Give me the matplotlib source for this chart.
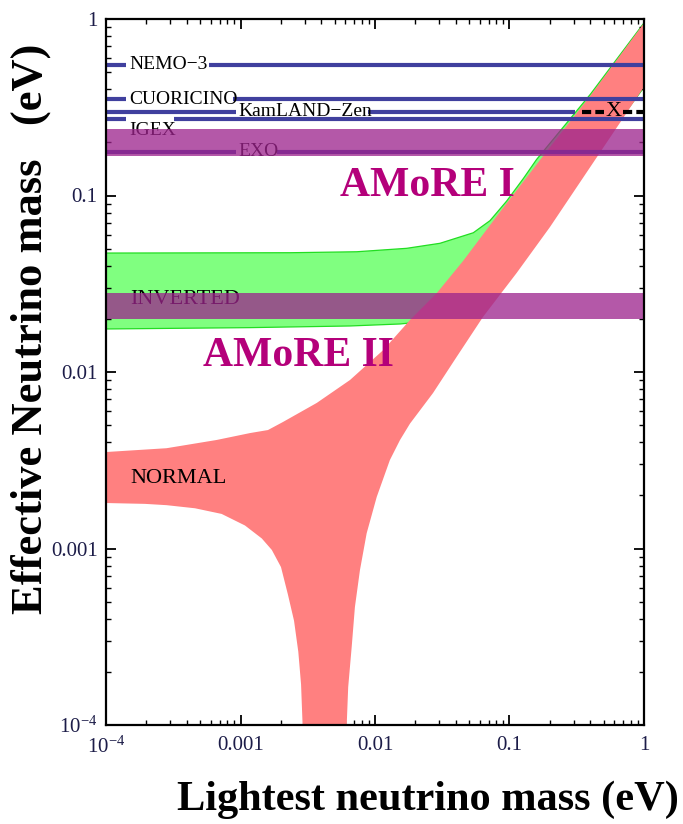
import matplotlib
matplotlib.use("Agg")
import matplotlib.pyplot as plt
from matplotlib.ticker import FixedLocator, LogLocator, NullFormatter

plt.rcParams['font.family'] = ['Liberation Serif', 'DejaVu Serif']
plt.rcParams['mathtext.fontset'] = 'custom'
plt.rcParams['mathtext.rm'] = 'Liberation Serif'
plt.rcParams['mathtext.it'] = 'Liberation Serif:italic'
plt.rcParams['mathtext.bf'] = 'Liberation Serif:bold'

# ---------------- data ----------------
# Normal hierarchy band
normal_upper_x = [1e-4, 2.82e-4, 6.65e-4, 1.18e-3, 1.60e-3, 2.07e-3, 3.69e-3, 6.52e-3,
                  0.0115, 0.0182, 0.0288, 0.0451, 0.0849, 0.200, 0.397, 1.0]
normal_upper_y = [0.00352, 0.00370, 0.00412, 0.00451, 0.00469, 0.00521, 0.00668, 0.00901,
                  0.0133, 0.0197, 0.0280, 0.0425, 0.0806, 0.188, 0.366, 0.949]
normal_lower_x = [1e-4, 1.95e-4, 2.82e-4, 4.59e-4, 7.24e-4, 1.08e-3, 1.44e-3, 1.71e-3,
                  2.00e-3, 2.25e-3, 2.50e-3, 2.69e-3, 2.82e-3, 2.89e-3, 2.92e-3,
                  6.10e-3, 6.17e-3, 6.32e-3, 6.71e-3, 7.09e-3, 7.73e-3, 8.67e-3,
                  0.0103, 0.0129, 0.01535, 0.0182, 0.0270, 0.0404, 0.0635, 0.113,
                  0.200, 1.0]
normal_lower_y = [1.81e-3, 1.79e-3, 1.76e-3, 1.69e-3, 1.57e-3, 1.35e-3, 1.14e-3, 9.81e-4,
                  7.85e-4, 5.5e-4, 3.9e-4, 2.6e-4, 1.7e-4, 1.04e-4, 1e-5,
                  1e-5, 1.03e-4, 1.64e-4, 2.77e-4, 4.66e-4, 7.55e-4, 1.22e-3,
                  1.96e-3, 3.17e-3, 4.12e-3, 5.1e-3, 7.6e-3, 0.01216, 0.0205, 0.0364,
                  0.0663, 0.412]

# Inverted hierarchy band
inv_upper_x = [1e-4, 2.33e-3, 7.31e-3, 0.0172, 0.0304, 0.0538, 0.0716, 0.0953, 0.127,
               0.159, 0.40, 1.0]
inv_upper_y = [0.0472, 0.0474, 0.0480, 0.0502, 0.0536, 0.0615, 0.0720, 0.0930, 0.125,
               0.160, 0.375, 0.95]
inv_lower_x = [1e-4, 1.18e-3, 6.52e-3, 0.01535, 0.0216, 0.05, 0.1, 0.3, 1.0]
inv_lower_y = [0.01753, 0.01784, 0.01823, 0.01871, 0.0192, 0.026, 0.042, 0.12, 0.41]

# Experimental limits (eV)
exp_names = ['NEMO\u22123', 'CUORICINO', 'KamLAND\u2212Zen', 'IGEX', 'EXO']
exp_limits = [0.549, 0.351, 0.298, 0.271, 0.176]

# AMoRE sensitivity bands (eV)
amore_names = ['AMoRE I', 'AMoRE II']
amore_low = [0.1675, 0.0200]
amore_high = [0.237, 0.0279]

# Axis ticks
tick_vals = [1e-4, 1e-3, 1e-2, 1e-1, 1]
x_tick_labels = ['10$^{-4}$', '0.001', '0.01', '0.1', '1']
y_tick_labels = ['10$^{-4}$', '0.001', '0.01', '0.1', '1']

# ---------------- figure ----------------
W, H = 683, 824
fig = plt.figure(figsize=(W / 100, H / 100), dpi=100)
ax = fig.add_axes([106 / W, 1 - 725 / H, (644 - 106) / W, (725 - 19) / H])
ax.set_xscale('log')
ax.set_yscale('log')
ax.set_xlim(1e-4, 1)
ax.set_ylim(1e-4, 1)

green = '#80FF80'
red = '#FF8080'
blue = '#40409E'
purple = (157 / 255, 36 / 255, 141 / 255)
magenta = '#B4007A'

# inverted (green) band
ax.fill(inv_upper_x + inv_lower_x[::-1], inv_upper_y + inv_lower_y[::-1],
        color=green, lw=0, zorder=1)
ax.plot(inv_upper_x, inv_upper_y, color='#22DD22', lw=0.9, zorder=1.1)
ax.plot(inv_lower_x, inv_lower_y, color='#22DD22', lw=0.9, zorder=1.1)

# normal (red) band
ax.fill(normal_upper_x + normal_lower_x[::-1], normal_upper_y + normal_lower_y[::-1],
        color=red, lw=0, zorder=2)

# experiment lines with gaps for labels
segments = {
    'NEMO\u22123': [(1e-4, 1.42e-4), (5.79e-4, 1.0)],
    'CUORICINO': [(1e-4, 1.41e-4), (8.8e-4, 1.0)],
    'KamLAND\u2212Zen': [(1e-4, 9.27e-4), (8.87e-3, 0.307)],
    'IGEX': [(1e-4, 1.41e-4), (3.18e-4, 1.0)],
    'EXO': [(1e-4, 9.27e-4), (1.87e-3, 1.0)],
}
for name, lim in zip(exp_names, exp_limits):
    for x0, x1 in segments[name]:
        ax.plot([x0, x1], [lim, lim], color=blue, lw=3.0, solid_capstyle='butt',
                zorder=3)

# KamLAND-Zen dashed extension with X
ax.plot([0.344, 0.50], [exp_limits[2]] * 2, color='black', lw=3.0,
        linestyle=(0, (2.2, 1.0)), zorder=3.5)
ax.plot([0.70, 0.98], [exp_limits[2]] * 2, color='black', lw=3.0,
        linestyle=(0, (2.2, 1.0)), zorder=3.5)
ax.text(0.59, exp_limits[2], 'X', fontsize=16, ha='center', va='center',
        color='black', zorder=3.6)

# labels for experiments
lab_fs = 14
ax.text(1.48e-4, exp_limits[0], exp_names[0], fontsize=lab_fs, ha='left', va='center', zorder=4)
ax.text(1.48e-4, exp_limits[1], exp_names[1], fontsize=lab_fs, ha='left', va='center', zorder=4)
ax.text(9.57e-4, exp_limits[2], exp_names[2], fontsize=lab_fs, ha='left', va='center', zorder=4)
ax.text(1.48e-4, 0.233, exp_names[3], fontsize=lab_fs, ha='left', va='center', zorder=4)
ax.text(9.57e-4, 0.177, exp_names[4], fontsize=lab_fs, ha='left', va='center', zorder=4)
ax.text(1.51e-4, 0.0256, 'INVERTED', fontsize=16, ha='left', va='center', zorder=4)
ax.text(1.51e-4, 0.00248, 'NORMAL', fontsize=16, ha='left', va='center', zorder=4)

# AMoRE bands
for lo, hi in zip(amore_low, amore_high):
    ax.fill_between([1e-4, 0.985], [lo, lo], [hi, hi], color=purple, alpha=0.76,
                    lw=0, zorder=5)

ax.text(5.5e-3, 0.113, amore_names[0], fontsize=30, fontweight='bold', color=magenta,
        ha='left', va='center', zorder=6)
ax.text(5.26e-4, 0.0123, amore_names[1], fontsize=30, fontweight='bold', color=magenta,
        ha='left', va='center', zorder=6)

# axes styling
for s in ax.spines.values():
    s.set_linewidth(1.6)
    s.set_zorder(10)
ax.xaxis.set_major_locator(FixedLocator(tick_vals))
ax.yaxis.set_major_locator(FixedLocator(tick_vals))
ax.xaxis.set_minor_locator(LogLocator(base=10, subs=range(2, 10)))
ax.yaxis.set_minor_locator(LogLocator(base=10, subs=range(2, 10)))
ax.xaxis.set_minor_formatter(NullFormatter())
ax.yaxis.set_minor_formatter(NullFormatter())
ax.set_xticklabels(x_tick_labels)
ax.set_yticklabels(y_tick_labels)
ax.tick_params(which='both', direction='in', top=True, right=True, color='black',
               labelcolor='#1c1c48', labelsize=15, zorder=11)
ax.tick_params(which='major', length=7, width=1.3)
ax.tick_params(axis='x', which='major', pad=8)
ax.tick_params(axis='y', which='major', pad=6)
ax.tick_params(which='minor', length=3.5, width=1.0)

fig.text(31 / W, 1 - 329 / H, 'Effective Neutrino mass   (eV)', rotation=90,
         fontsize=32, fontweight='bold', ha='center', va='center')
fig.text(428 / W, 1 - 800 / H, 'Lightest neutrino mass (eV)',
         fontsize=30.5, fontweight='bold', ha='center', va='center')

fig.savefig('out.png', dpi=100)
